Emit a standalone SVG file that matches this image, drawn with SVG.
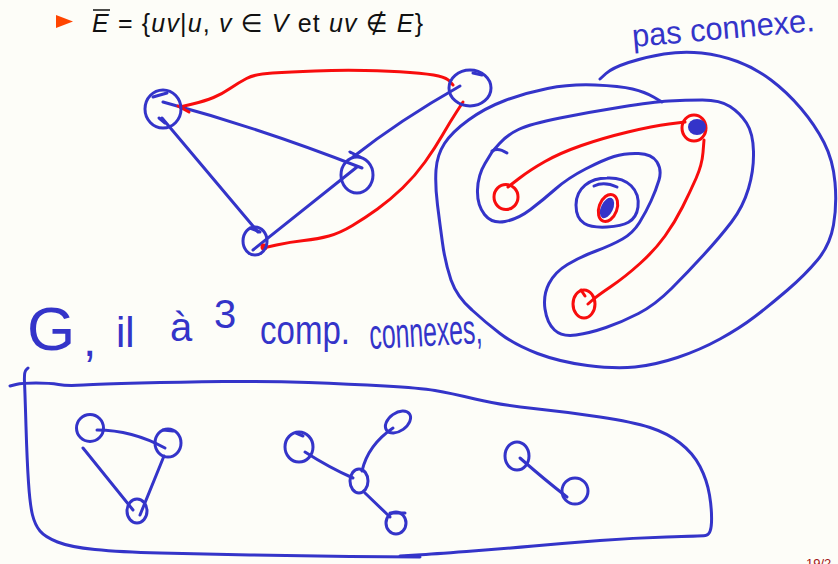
<svg xmlns="http://www.w3.org/2000/svg" width="838" height="564" viewBox="0 0 838 564">
<style>
.b{fill:none;stroke:#3434c9;stroke-width:3;stroke-linecap:round;stroke-linejoin:round}
.r{fill:none;stroke:#f80d0d;stroke-width:3;stroke-linecap:round;stroke-linejoin:round}
.fb{fill:#3434c9;stroke:none}
.hw{fill:#3434c9;font-family:"Liberation Sans","DejaVu Sans",sans-serif}
.tx{fill:#111;font-family:"Liberation Sans","DejaVu Sans",sans-serif;font-size:25px}
.it{font-style:italic}
</style>
<rect width="838" height="564" fill="#fdfdf8"/>
<g id="header">
<polygon points="56,15 73,21.5 56,28" fill="#ff4500"/>
<line x1="93" y1="10" x2="110" y2="10" stroke="#111" stroke-width="1.5"/>
<text class="tx" x="92" y="32" textLength="331" lengthAdjust="spacing"><tspan class="it">E</tspan> = {<tspan class="it">uv</tspan>|<tspan class="it">u</tspan>, <tspan class="it">v</tspan> ∈ <tspan class="it">V</tspan> et <tspan class="it">uv</tspan> ∉ <tspan class="it">E</tspan>}</text>
</g>
<g id="annotations">
<text class="hw" x="633" y="47" font-size="32" textLength="183" lengthAdjust="spacingAndGlyphs" transform="rotate(-5 633 47)">pas connexe.</text>
<text class="hw"><tspan x="27" y="350" font-size="62">G</tspan><tspan x="83" y="356" font-size="48">,</tspan><tspan x="116" y="347" font-size="42">il</tspan><tspan x="170" y="341" font-size="40">à</tspan><tspan x="214" y="328" font-size="40">3</tspan></text>
<text class="hw" x="260" y="344" font-size="40" textLength="90" lengthAdjust="spacingAndGlyphs">comp.</text>
<text class="hw" x="370" y="349" font-size="42" textLength="113" lengthAdjust="spacingAndGlyphs" transform="rotate(-3 370 349)">connexes,</text>
<text x="806" y="568" font-family="Liberation Sans, sans-serif" font-size="13" fill="#a31515">19/2</text>
</g>
<g id="connectors">
<path class="b" d="M163,102 Q260,128 362,168"/>
<path class="b" d="M162,118 L258,232"/>
<path class="b" d="M253,250 L357,167"/>
<path class="b" d="M353,157 Q400,120 460,86"/>
<path class="r" d="M180,107 L192.5,104 Q205,101 213.5,97.5 Q222,94 230,88.5 Q238,83 246.5,78.5 Q255,74 272.5,73 Q290,72 315,71 Q340,70 365,70.5 Q390,71 410,72.5 Q430,74 438.5,76 Q447,78 450,81.5 L453,85"/>
<path class="r" d="M178,106 L189,112"/>
<path class="r" d="M263,248 L276.5,245 Q290,242 304,240.5 Q318,239 329,236 Q340,233 352.5,225.5 Q365,218 377.5,209 Q390,200 402.5,188 Q415,176 425,162 Q435,148 442.5,135 Q450,122 456.5,112 L463,102"/>
<circle cx="264" cy="247" r="3.5" fill="#f80d0d"/>
<path class="b" d="M600,79 L606,73.5 Q612,68 628.5,62.5 Q645,57 664,54 Q683,51 701.5,53 Q720,55 737.5,61.5 Q755,68 771,80 Q787,92 801,108.5 Q815,125 824,142.5 Q833,160 835,182.5 Q837,205 833.5,225 Q830,245 817.5,260 Q805,275 787.5,290 Q770,305 755,316.5 Q740,328 720,339 Q700,350 677.5,357.5 Q655,365 635,367 Q615,369 587.5,365.5 Q560,362 537.5,353.5 Q515,345 500,333.5 Q485,322 472,310 Q457,297 451,280 Q445,262 442.5,243 Q440,225 437.5,205 Q435,185 436,170 Q437,155 444.5,143.5 Q452,132 468.5,120 Q485,108 505,100.5 Q525,93 547.5,88.5 Q570,84 595,85 Q620,86 632.5,89 Q645,92 653.5,97 L662,102"/>
<path class="b" d="M492,152 L485,163.5 Q478,175 477.5,190 Q477,205 484.5,214.5 Q492,224 505,221.5 Q518,219 530.5,209.5 Q543,200 555.5,189 Q568,178 585.5,169 Q603,160 614,156.5 Q625,153 638.5,153.5 Q652,154 657,162 Q662,170 659,180 Q656,190 651,201 Q646,212 639.5,222.5 Q633,233 622.5,239 Q612,245 596,251 Q580,257 567.5,264.5 Q555,272 549,283.5 Q543,295 545,309 Q547,323 554.5,330 Q562,337 576,335 Q590,333 606,327.5 Q622,322 638.5,313.5 Q655,305 671.5,288.5 Q688,272 704,254.5 Q720,237 731.5,222 Q743,207 748.5,188.5 Q754,170 753.5,151.5 Q753,133 746.5,123 Q740,113 730,106.5 Q720,100 702.5,100 Q685,100 669,101 Q653,102 621.5,107 Q590,112 560,118 Q530,124 518.5,129.5 Q507,135 499.5,143.5 L492,152"/>
<path class="b" d="M492,151 Q498,147 507,153"/>
<path class="b" d="M607,178 C628,177 640,190 638,207 C636,222 625,226 607,227 C588,228 576,224 576,205 C576,188 590,178 607,178 Z"/>
<path class="b" d="M594,186 Q604,181 617,187"/>
<path class="r" d="M508,187 L519,178.5 Q530,170 545,161.5 Q560,153 581.5,145.5 Q603,138 628,132 Q653,126 669,124 L685,122"/>
<path class="r" d="M704,140 L703,152.5 Q702,165 696,178.5 Q690,192 682.5,207 Q675,222 665,236 Q655,250 640,263.5 Q625,277 611,286.5 Q597,296 592.5,300 L588,304"/>
<path class="b" d="M97,430 Q132,430 165,448"/>
<path class="b" d="M83,448 L133,510"/>
<path class="b" d="M164,456 L140,515"/>
<path class="b" d="M305,452 Q330,468 353,478"/>
<path class="b" d="M362,471 Q368,445 393,428"/>
<path class="b" d="M365,493 L390,517"/>
<path class="b" d="M520,458 Q545,480 567,497"/>
<path class="b" d="M10,386 L16,384.5 Q22,383 36,383 Q50,383 58.5,384.5 Q67,386 83.5,385 Q100,384 140,383 Q180,382 223.5,381.5 Q267,381 308.5,382.5 Q350,384 385,386 Q420,388 435,390.5 Q450,393 475,399 Q500,405 533.5,408.5 Q567,412 600,417 Q633,422 650,427.5 Q667,433 680,443 Q693,453 700,466.5 Q707,480 709.5,495 Q712,510 711.5,522.5 Q711,535 705.5,535.5 Q700,536 666.5,537 Q633,538 600,540.5 Q567,543 533.5,546 Q500,549 466.5,551.5 Q433,554 416.5,555 L400,556"/>
<path class="b" d="M28,368 L26,370 Q24,372 24.5,382.5 Q25,393 26,426.5 Q27,460 28.5,482.5 Q30,505 32.5,515 Q35,525 40,531 Q45,537 57.5,542 Q70,547 95,549.5 Q120,552 160,553 Q200,554 250,555 Q300,556 350,556.5 L420,557"/>
</g>
<g id="node-A"><ellipse class="b" cx="163" cy="109" rx="18" ry="19"/><path class="b" d="M153,97 L167,93 M159,118 L165,123"/></g>
<g id="node-B"><ellipse class="b" cx="470" cy="88" rx="21" ry="18"/><path class="b" d="M473,73 L482,75"/></g>
<g id="node-C"><ellipse class="b" cx="357" cy="175" rx="16" ry="18"/><path class="b" d="M350,152 L360,157"/></g>
<g id="node-D"><ellipse class="b" cx="255" cy="241" rx="12" ry="14"/><path class="b" d="M250,228 L260,232"/></g>
<g id="node-R1"><ellipse class="r" cx="506" cy="197" rx="12" ry="12.5"/></g>
<g id="node-R2"><ellipse class="r" cx="584" cy="304" rx="11" ry="14"/><path class="r" d="M581,290 L585,296"/></g>
<g id="node-R3"><ellipse class="r" cx="694" cy="128" rx="12" ry="13"/><ellipse class="fb" cx="697" cy="127" rx="9" ry="8"/></g>
<g id="node-R4"><ellipse class="r" cx="608" cy="208" rx="9" ry="14" transform="rotate(20 608 208)"/><ellipse class="fb" cx="607" cy="208" rx="6" ry="11" transform="rotate(25 607 208)"/></g>
<g id="node-g1a"><ellipse class="b" cx="90" cy="428" rx="13.5" ry="13.5"/></g>
<g id="node-g1b"><ellipse class="b" cx="168" cy="443" rx="13" ry="14"/><path class="b" d="M163,430 L173,431"/></g>
<g id="node-g1c"><ellipse class="b" cx="137" cy="511" rx="10" ry="12"/></g>
<g id="node-g2a"><ellipse class="b" cx="299" cy="447" rx="14" ry="15"/><path class="b" d="M296,433 L303,436"/></g>
<g id="node-g2b"><ellipse class="b" cx="359" cy="481" rx="9" ry="12"/></g>
<g id="node-g2c"><ellipse class="b" cx="398" cy="422" rx="14" ry="9" transform="rotate(-35 398 422)"/></g>
<g id="node-g2d"><ellipse class="b" cx="396" cy="523" rx="10" ry="11"/><path class="b" d="M390,513 L405,513"/></g>
<g id="node-g3a"><ellipse class="b" cx="517" cy="456" rx="12" ry="14"/></g>
<g id="node-g3b"><ellipse class="b" cx="575" cy="491" rx="13" ry="13"/></g>
</svg>
